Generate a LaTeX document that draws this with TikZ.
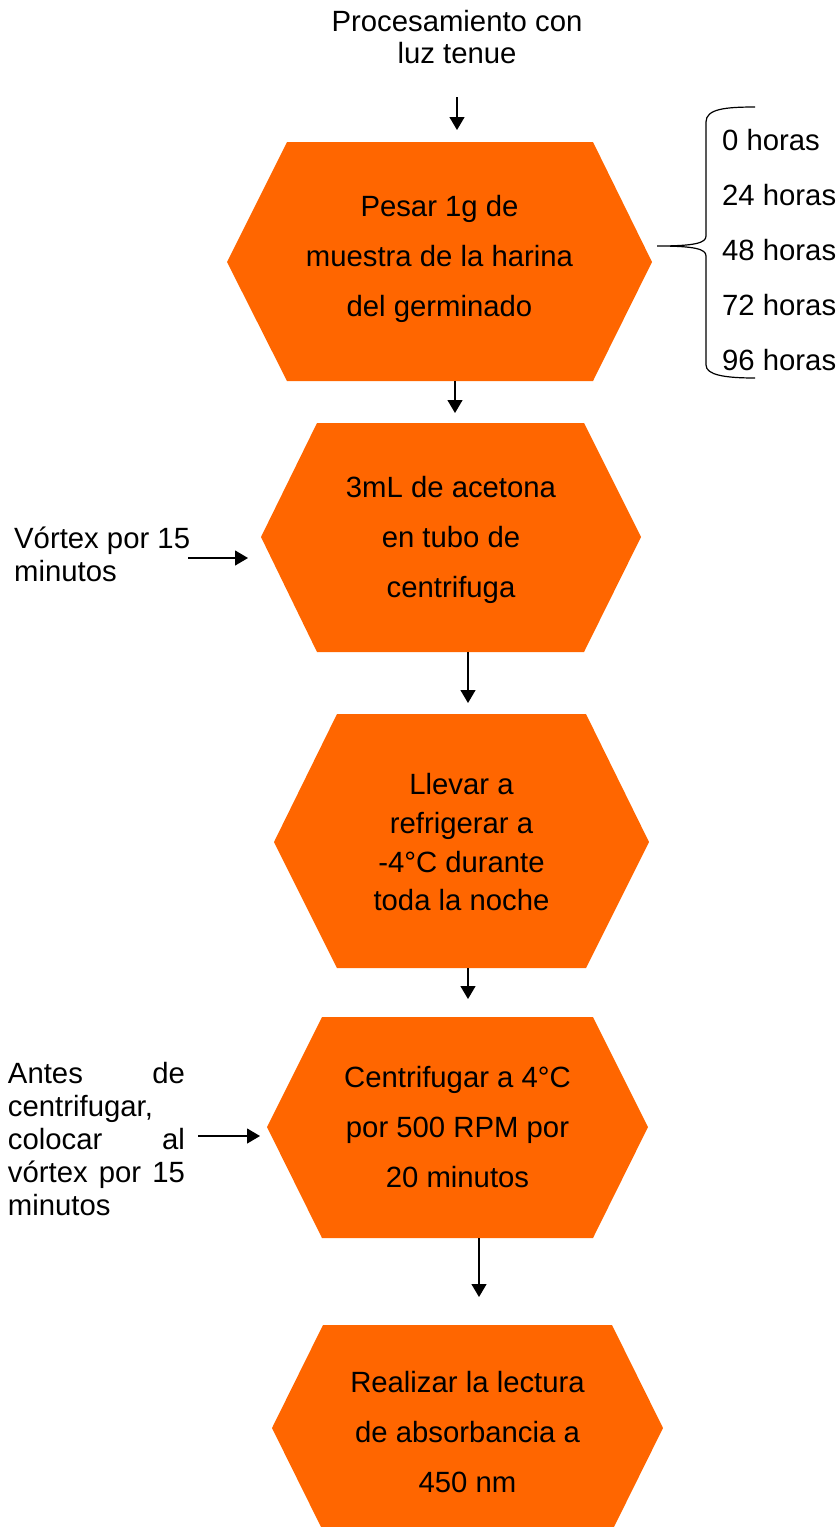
\documentclass[tikz,border=0pt]{standalone}
\usepackage{fontspec}
\setmainfont{Liberation Sans}
\usetikzlibrary{arrows.meta}
\definecolor{hexorange}{HTML}{FF6600}
\begin{document}
\begin{tikzpicture}[x=1pt,y=-1pt,
  hexa/.style={fill=hexorange, draw=none},
  txt/.style={inner sep=0pt, font=\fontsize{29.3}{50}\selectfont, align=center, text=black},
  flow/.style={-{Triangle[width=15pt,length=13pt]}, line width=1.2pt, black},
  bracestyle/.style={line width=1.2pt, black},
  hlabel/.style={inner sep=0pt, anchor=base west, font=\fontsize{29.3}{34}\selectfont}]
\useasboundingbox (0,0) rectangle (840,1527);

% hexagons
\fill[hexa] (287,142) -- (593,142) -- (652,262) -- (593,381) -- (287,381) -- (227,262) -- cycle;
\fill[hexa] (317,423) -- (584,423) -- (641,537) -- (584,652) -- (317,652) -- (261,537) -- cycle;
\fill[hexa] (337,714) -- (586,714) -- (649,842) -- (586,968) -- (337,968) -- (274,842) -- cycle;
\fill[hexa] (322,1017) -- (593,1017) -- (648,1127) -- (593,1238) -- (322,1238) -- (267,1127) -- cycle;
\fill[hexa] (323,1325) -- (612,1325) -- (663,1428) -- (612,1531) -- (323,1531) -- (272,1428) -- cycle;

% texts
\node[txt, font=\fontsize{29.3}{32}\selectfont] (title) at (457,37.3) {Procesamiento con\\luz tenue};
\node[txt] (t1) at (439.5,258.9) {Pesar 1g de\\muestra de la harina\\del germinado};
\node[txt] (t2) at (451,539.9) {3mL de acetona\\en tubo de\\centrifuga};
\node[txt, font=\fontsize{29.3}{38.7}\selectfont] (t3) at (461.5,842.3) {Llevar a\\refrigerar a\\-4°C durante\\toda la noche};
\node[txt] (t4) at (457.5,1126.6) {Centrifugar a 4°C\\por 500 RPM por\\20 minutos};
\node[txt] (t5) at (467.5,1432.3) {Realizar la lectura\\de absorbancia a\\450 nm};

\node[txt, font=\fontsize{29.3}{33}\selectfont, align=left, anchor=west] (s1) at (14,554) {Vórtex por 15\\minutos};
\node[txt, font=\fontsize{29.3}{33}\selectfont, align=left, text width=177pt] (s2) at (96.5,1138.6)
  {Antes\hfill de\\centrifugar,\\colocar\hfill al\\vórtex\hfill por\hfill 15\\minutos};

% brace labels
\node[hlabel] (l0) at (722,150) {0 horas};
\node[hlabel] (l24) at (722,205) {24 horas};
\node[hlabel] (l48) at (722,260) {48 horas};
\node[hlabel] (l72) at (722,315) {72 horas};
\node[hlabel] (l96) at (722,370) {96 horas};

% brace
\coordinate (btop) at (755,107);
\coordinate (btip) at (657,246);
\coordinate (bbot) at (755,378);
\draw[bracestyle] (btop) .. controls (725,107) and (706,109) .. (706,122) -- (706,236)
  .. controls (706,243) and (695,246) .. (btip)
  .. controls (695,246) and (706,249) .. (706,256) -- (706,365)
  .. controls (706,375) and (725,378) .. (bbot);

% connector coordinates
\coordinate (a0s) at (457,97);   \coordinate (a0e) at (457,130);
\coordinate (h1b) at (455,381);  \coordinate (h2t) at (455,413);
\coordinate (h2b) at (468,652);  \coordinate (h3t) at (468,703);
\coordinate (h3b) at (468,968);  \coordinate (h4t) at (468,999);
\coordinate (h4b) at (479,1238); \coordinate (h5t) at (479,1297);
\coordinate (s1s) at (188,558);  \coordinate (s1e) at (248,558);
\coordinate (s2s) at (198,1136); \coordinate (s2e) at (260,1136);

\draw[flow] (a0s) -- (a0e);
\draw[flow] (h1b) -- (h2t);
\draw[flow] (h2b) -- (h3t);
\draw[flow] (h3b) -- (h4t);
\draw[flow] (h4b) -- (h5t);
\draw[flow] (s1s) -- (s1e);
\draw[flow] (s2s) -- (s2e);
\end{tikzpicture}
\end{document}
